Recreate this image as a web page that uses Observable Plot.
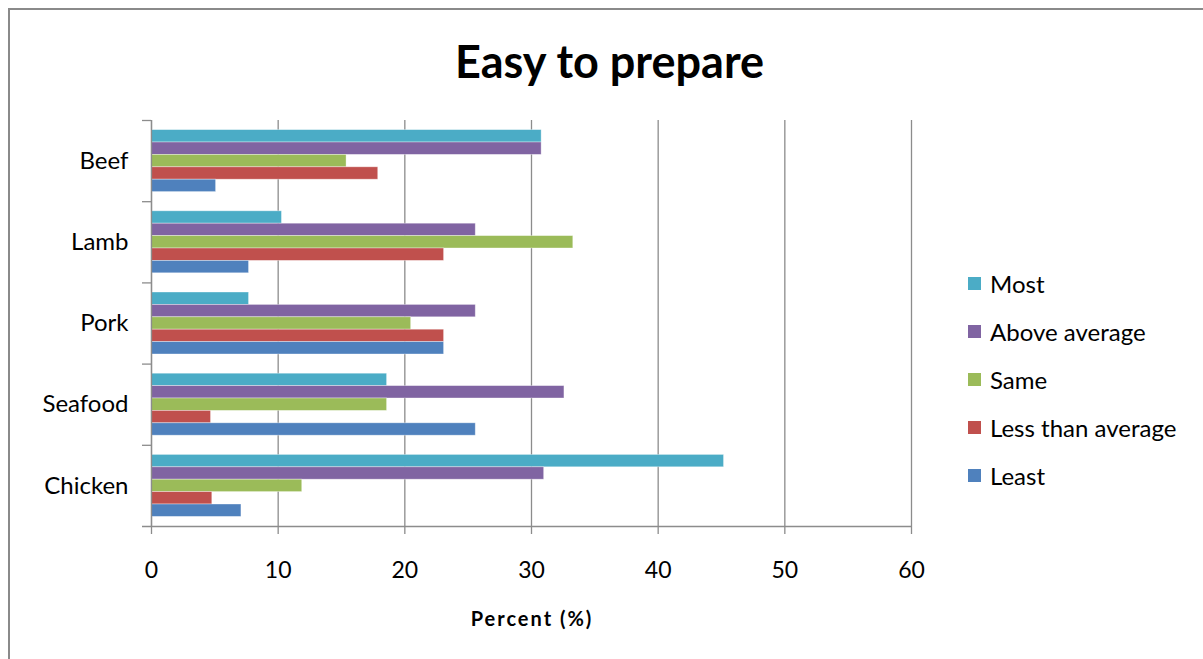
<!DOCTYPE html>
<html><head><meta charset="utf-8">
<script src="https://cdn.jsdelivr.net/npm/d3@7"></script>
<script src="https://cdn.jsdelivr.net/npm/@observablehq/plot@0.6"></script>
<style>
html,body{margin:0;padding:0;background:#fff;overflow:hidden;}
#wrap{position:relative;width:1203px;height:659px;overflow:hidden;font-family:Lato,"Open Sans",sans-serif;color:#000;}
#border{position:absolute;left:8px;top:8px;width:1400px;height:900px;border:2px solid #8a8a8a;box-sizing:border-box;}
#title{position:absolute;left:0;width:1219px;top:39px;line-height:45px;text-align:center;font-weight:bold;font-size:45px;}
#chart{position:absolute;left:0;top:0;}
#xlabel{position:absolute;left:0;width:1064px;top:608px;line-height:20px;text-align:center;font-weight:bold;font-size:20px;letter-spacing:2px;}
#legend{position:absolute;left:968px;top:269px;}
.leg{display:flex;align-items:center;height:28px;margin-bottom:20px;font-size:24px;white-space:nowrap;}
.sw{width:13px;height:13px;margin-right:9px;flex:none;}
</style></head>
<body>
<div id="wrap">
<div id="border"></div>
<div id="chart"></div>
<div id="title">Easy to prepare</div>
<div id="xlabel">Percent (%)</div>
<div id="legend"></div>
</div>
<script>
const categories = ["Beef", "Lamb", "Pork", "Seafood", "Chicken"];
const series = ["Most", "Above average", "Same", "Less than average", "Least"];
const most = [30.8, 10.3, 7.7, 18.6, 45.2];
const aboveAverage = [30.8, 25.6, 25.6, 32.6, 31.0];
const same = [15.4, 33.3, 20.5, 18.6, 11.9];
const lessThanAverage = [17.9, 23.1, 23.1, 4.7, 4.8];
const least = [5.1, 7.7, 23.1, 25.6, 7.1];
const xTicks = [0, 10, 20, 30, 40, 50, 60];
const colors = ["#4BACC6", "#8064A2", "#9BBB59", "#C0504D", "#4F81BD"];

const seriesValues = [most, aboveAverage, same, lessThanAverage, least];
const rows = [];
categories.forEach((c, i) => series.forEach((s, j) => rows.push({category: c, series: s, value: seriesValues[j][i]})));

const W = 1203, H = 659;
const mL = 151, mR = 292, mT = 120, mB = 133;
const bw = (H - mT - mB) / categories.length;
const bh = 12.4;
const off = (bw - bh * series.length) / 2;
const gridColor = "#8c8c8c";

const marks = [
  Plot.gridX(xTicks, {stroke: gridColor, strokeOpacity: 1, strokeWidth: 1.3}),
  ...series.map((s, j) => Plot.barX(rows.filter(d => d.series === s), {
    x: "value", y: "category", fill: colors[j],
    insetTop: off + j * bh, insetBottom: bw - off - (j + 1) * bh,
    stroke: "#fff", strokeOpacity: 0.45, strokeWidth: 0.8
  })),
  Plot.ruleX([0], {stroke: gridColor, strokeWidth: 1.3}),
  Plot.ruleY([categories[categories.length - 1]], {dy: bw / 2, stroke: gridColor, strokeWidth: 1.3, insetLeft: -9}),
  Plot.axisY({tickSize: 9, tickFormat: () => "", dy: -bw / 2, stroke: gridColor, strokeWidth: 1.3, label: null}),
  Plot.axisY({tickSize: 0, tickPadding: 23, fontSize: 24, fill: "#000", label: null}),
  Plot.axisX({ticks: xTicks, tickSize: 8, tickPadding: 27, fontSize: 23, fill: "#000", stroke: gridColor, strokeWidth: 1.3, label: null})
];

const chart = Plot.plot({
  width: W, height: H,
  marginLeft: mL, marginRight: mR, marginTop: mT, marginBottom: mB,
  style: {fontFamily: "Lato, 'Open Sans', sans-serif", background: "transparent", color: "#000"},
  x: {domain: [0, 60]},
  y: {domain: categories, padding: 0, round: false},
  marks
});
document.getElementById("chart").appendChild(chart);

const legend = document.getElementById("legend");
series.forEach((s, j) => {
  const row = document.createElement("div");
  row.className = "leg";
  const sw = document.createElement("div");
  sw.className = "sw";
  sw.style.background = colors[j];
  const t = document.createElement("span");
  t.textContent = s;
  row.appendChild(sw); row.appendChild(t);
  legend.appendChild(row);
});
</script>
</body></html>
